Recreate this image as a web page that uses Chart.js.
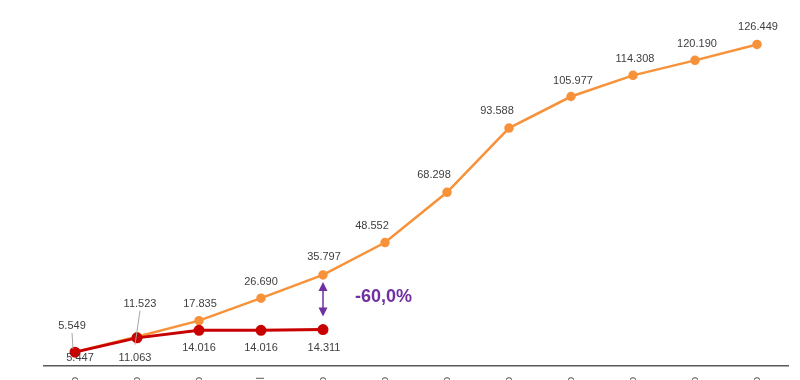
<!DOCTYPE html>
<html lang="pt-BR">
<head>
  <meta charset="UTF-8">
  <title>Comparativo acumulado</title>
  <script src="https://cdn.jsdelivr.net/npm/chart.js"></script>
  <style>
    html, body {
      margin: 0;
      padding: 0;
      background: #fff;
      overflow: hidden;
    }
    #wrap {
      width: 800px;
      height: 440px;
    }
  </style>
</head>
<body>
  <div id="wrap">
    <canvas id="chart"></canvas>
  </div>

  <script>
    const months = ["janeiro", "fevereiro", "março", "abril", "maio", "junho",
                    "julho", "agosto", "setembro", "outubro", "novembro", "dezembro"];
    const previousYear = [5.549, 11.523, 17.835, 26.690, 35.797, 48.552,
                          68.298, 93.588, 105.977, 114.308, 120.190, 126.449];
    const currentYear = [5.447, 11.063, 14.016, 14.016, 14.311];

    const ORANGE = "#F7923A";
    const RED = "#C80000";
    const PURPLE = "#7030A0";
    const LABEL_COLOR = "#404040";

    // label offsets (dx, dy) from each point
    const orangeOffsets = [[-3, -26], [3, -33], [1, -17], [0, -16], [1, -18], [-13, -17],
                           [-13, -17], [-12, -17], [2, -16], [2, -16], [2, -16], [1, -17]];
    const redOffsets = [[5, 6], [-2, 20], [0, 18], [0, 18], [1, 18]];

    const fmt = v => v.toFixed(3);

    const labelsPlugin = {
      id: "pointLabels",
      afterDatasetsDraw(chart) {
        const ctx = chart.ctx;
        ctx.save();
        ctx.font = "11px 'Liberation Sans', Arial, sans-serif";
        ctx.fillStyle = LABEL_COLOR;
        ctx.textAlign = "center";
        ctx.textBaseline = "middle";

        const orangeMeta = chart.getDatasetMeta(0);
        const redMeta = chart.getDatasetMeta(1);

        orangeMeta.data.forEach((pt, i) => {
          const [dx, dy] = orangeOffsets[i];
          const lx = pt.x + dx, ly = pt.y + dy;
          if (i < 2) {
            ctx.strokeStyle = "#A6A6A6";
            ctx.lineWidth = 1;
            ctx.beginPath();
            ctx.moveTo(lx, ly + 7);
            ctx.lineTo(pt.x - 2, i === 0 ? pt.y - 3 : pt.y + 8);
            ctx.stroke();
          }
          ctx.fillText(fmt(previousYear[i]), lx, ly);
        });

        redMeta.data.forEach((pt, i) => {
          if (currentYear[i] == null) return;
          const [dx, dy] = redOffsets[i];
          ctx.fillText(fmt(currentYear[i]), pt.x + dx, pt.y + dy);
        });

        // variation arrow between the two series at the last month with data
        const last = currentYear.length - 1;
        const top = orangeMeta.data[last];
        const bottom = redMeta.data[last];
        const x = top.x;
        const y1 = top.y + 7;
        const y2 = bottom.y - 13;
        ctx.strokeStyle = PURPLE;
        ctx.fillStyle = PURPLE;
        ctx.lineWidth = 1.5;
        ctx.beginPath();
        ctx.moveTo(x, y1 + 6);
        ctx.lineTo(x, y2 - 6);
        ctx.stroke();
        ctx.beginPath();
        ctx.moveTo(x, y1);
        ctx.lineTo(x - 4.5, y1 + 9);
        ctx.lineTo(x + 4.5, y1 + 9);
        ctx.closePath();
        ctx.fill();
        ctx.beginPath();
        ctx.moveTo(x, y2);
        ctx.lineTo(x - 4.5, y2 - 9);
        ctx.lineTo(x + 4.5, y2 - 9);
        ctx.closePath();
        ctx.fill();

        const change = (currentYear[last] - previousYear[last]) / previousYear[last] * 100;
        ctx.font = "bold 18px 'Liberation Sans', Arial, sans-serif";
        ctx.textAlign = "left";
        ctx.fillText(change.toFixed(1).replace(".", ",") + "%", x + 32, (y1 + y2) / 2 - 2);
        ctx.restore();
      }
    };

    const ctx = document.getElementById("chart").getContext("2d");
    new Chart(ctx, {
      type: "line",
      data: {
        labels: months,
        datasets: [
          {
            label: "Ano anterior",
            data: previousYear,
            borderColor: ORANGE,
            backgroundColor: ORANGE,
            borderWidth: 2.5,
            pointRadius: 3.5,
            pointBackgroundColor: ORANGE,
            pointBorderColor: ORANGE,
            tension: 0,
            order: 2
          },
          {
            label: "Ano atual",
            data: currentYear,
            borderColor: RED,
            backgroundColor: RED,
            borderWidth: 3,
            pointRadius: 4,
            pointBackgroundColor: RED,
            pointBorderColor: RED,
            tension: 0,
            order: 1
          }
        ]
      },
      options: {
        responsive: true,
        maintainAspectRatio: false,
        animation: false,
        layout: {
          padding: { left: 44, right: 12, top: 10, bottom: 0 }
        },
        plugins: {
          legend: { display: false },
          tooltip: { enabled: false }
        },
        scales: {
          x: {
            offset: true,
            grid: { display: false, drawTicks: false },
            border: { display: true, color: "#595959", width: 1.5 },
            ticks: {
              color: "#595959",
              font: { family: "'Liberation Sans', Arial, sans-serif", size: 11 },
              minRotation: 90,
              maxRotation: 90,
              autoSkip: false,
              padding: 11
            },
            afterFit(scale) { scale.height = 74; }
          },
          y: {
            display: false,
            min: 0,
            max: 140
          }
        }
      },
      plugins: [labelsPlugin]
    });
  </script>
</body>
</html>
